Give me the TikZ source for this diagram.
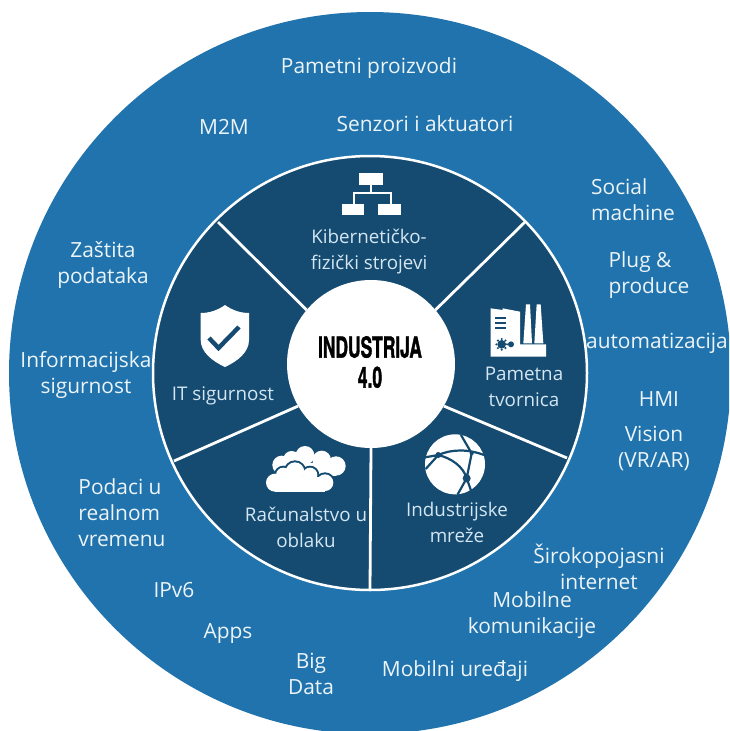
\documentclass[tikz,border=0pt]{standalone}
\usepackage{fontspec}
\setmainfont{Open Sans}
\newfontfamily\titlefont[FakeStretch=0.6,FakeBold=1.2]{TeX Gyre Heros Bold}
\definecolor{ringblue}{HTML}{2073AD}
\definecolor{wheelblue}{HTML}{154B71}
\definecolor{paletext}{HTML}{D3E6F2}
\tikzset{
  outertext/.style={align=center, text=white!92!ringblue, font=\fontsize{20.9}{26}\selectfont},
  innertext/.style={align=center, text=paletext, font=\fontsize{18.8}{26}\selectfont},
  spoke/.style={draw=white, line width=2.8pt},
  icon/.style={fill=white, draw=none}
}
\begin{document}
\begin{tikzpicture}[x=1pt, y=-1pt]
  \useasboundingbox (0,0) rectangle (729,731);
  \clip (0,0) rectangle (729,731);

  % Discs
  \fill[ringblue] (370,373) circle (361);
  \fill[wheelblue, draw=white, line width=2.5pt] (370,373) circle (217);

  % Hub
  \node[circle, fill=white, minimum size=168pt, inner sep=0pt] (hub) at (371,364) {};
  \node[align=center, text=black, font=\fontsize{29}{30}\titlefont] (title) at (370,362) {INDUSTRIJA\\4.0};

  % Spokes
  \coordinate (rimA) at (218,222);
  \coordinate (rimB) at (525,222);
  \coordinate (rimC) at (567,458);
  \coordinate (rimD) at (370,590);
  \coordinate (rimE) at (174,461);
  \draw[spoke] (hub.140) -- (rimA);
  \draw[spoke] (hub.40) -- (rimB);
  \draw[spoke] (hub.-30) -- (rimC);
  \draw[spoke] (hub.-90) -- (rimD);
  \draw[spoke] (hub.210) -- (rimE);

  % Sitemap icon
  \fill[icon] (359.3,173.3) rectangle (382.7,185);
  \fill[icon] (341.7,204) rectangle (364,215);
  \fill[icon] (378,204) rectangle (400.7,215);
  \draw[white, line width=1.5pt] (371,185) -- (371,193) (354,204) -- (354,193) -- (391,193) -- (391,204);

  % Shield icon
  \fill[icon] (225,305) .. controls (232,310) and (240,313) .. (249,313) -- (249,340)
    .. controls (249,352) and (238,361) .. (225,367)
    .. controls (212,361) and (200.7,352) .. (200.7,340) -- (200.7,313)
    .. controls (210,313) and (218,310) .. (225,305) -- cycle;
  \draw[wheelblue, line width=4.4pt] (209,338) -- (218.5,348) -- (239,327);

  % Factory icon
  \begin{scope}[shift={(480,295)}, scale=1/3]
    \fill[icon] (32,40) -- (68,45) -- (68,40) -- (120,50) -- (120,148) -- (198,148) -- (198,185) -- (32,185) -- cycle;
    \fill[icon] (130,145) -- (138,28) -- (150,28) -- (156,145) -- cycle;
    \fill[icon] (163,145) -- (170,28) -- (182,28) -- (190,145) -- cycle;
    \draw[wheelblue, line width=1.7pt] (45,68) -- (78,68) (45,83) -- (78,83) (45,98) -- (78,98);
    \fill[wheelblue] (65,148) circle (13) (93,148) circle (9);
    \foreach \a in {0,45,...,315} {
      \fill[wheelblue] (65,148) ++(\a:16) circle (3.5);
    }
  \end{scope}

  % Globe icon
  \begin{scope}[shift={(415,425)}, scale=1/3]
    \fill[icon] (120,118) circle (90);
    \draw[wheelblue, line width=2.2pt] (30,97) -- (70,90) .. controls (110,72) and (160,72) .. (207,90)
      (70,90) .. controls (110,100) and (145,125) .. (155,160) -- (128,208)
      (138,30) -- (170,85) -- (155,160) -- (170,202)
      (70,90) -- (32,132);
    \fill[wheelblue] (70,90) circle (9) (170,85) circle (6) (155,160) circle (12);
  \end{scope}

  % Cloud icon
  \begin{scope}[shift={(250,430)}, scale=1/3]
    \foreach \x/\y/\r in {95/105/28,125/88/25,165/76/28,215/90/28,258/108/29} {
      \fill[icon] (\x,\y) circle (\r);
    }
    \fill[icon] (95,100) rectangle (258,137);
    % back edge of the front cloud
    \foreach \x/\y/\r in {75/158/27,100/135/22,135/125/28,180/135/22,225/158/25} {
      \fill[wheelblue] (\x,\y) circle (\r+6);
    }
    \foreach \x/\y/\r in {75/158/27,100/135/22,135/125/28,180/135/22,225/158/25} {
      \fill[icon] (\x,\y) circle (\r);
    }
    \fill[icon] (75,140) rectangle (225,185);
  \end{scope}

  % Wheel labels
  \node[innertext] (cyber) at (369,252) {Kibernetičko-\\fizički strojevi};
  \node[innertext] (factory) at (524,387) {Pametna\\tvornica};
  \node[innertext] (networks) at (457,522) {Industrijske\\mreže};
  \node[innertext] (cloud) at (306,527) {Računalstvo u\\oblaku};
  \node[innertext] (security) at (223,396) {IT sigurnost};

  % Ring labels
  \node[outertext] (products) at (369,68) {Pametni proizvodi};
  \node[outertext] (mtom) at (224,127) {M2M};
  \node[outertext] (sensors) at (425,124) {Senzori i aktuatori};
  \node[outertext, align=left] (social) at (633,200) {Social\\machine};
  \node[outertext, align=left] (plug) at (649,275) {Plug \&\\produce};
  \node[outertext] (automation) at (657,343) {automatizacija};
  \node[outertext] (hmi) at (659,399) {HMI};
  \node[outertext] (vision) at (654,448) {Vision\\(VR/AR)};
  \node[outertext] (broadband) at (599,567) {Širokopojasni\\internet};
  \node[outertext] (mobilecom) at (532,615) {Mobilne\\komunikacije};
  \node[outertext] (devices) at (455,671) {Mobilni uređaji};
  \node[outertext] (bigdata) at (311,674) {Big\\Data};
  \node[outertext] (apps) at (228,634) {Apps};
  \node[outertext] (ipv) at (174,590) {IPv6};
  \node[outertext, align=left] (realtime) at (122,513) {Podaci u\\realnom\\vremenu};
  \node[outertext] (infosec) at (86,375) {Informacijska\\sigurnost};
  \node[outertext] (privacy) at (103,265) {Zaštita\\podataka};
\end{tikzpicture}
\end{document}
